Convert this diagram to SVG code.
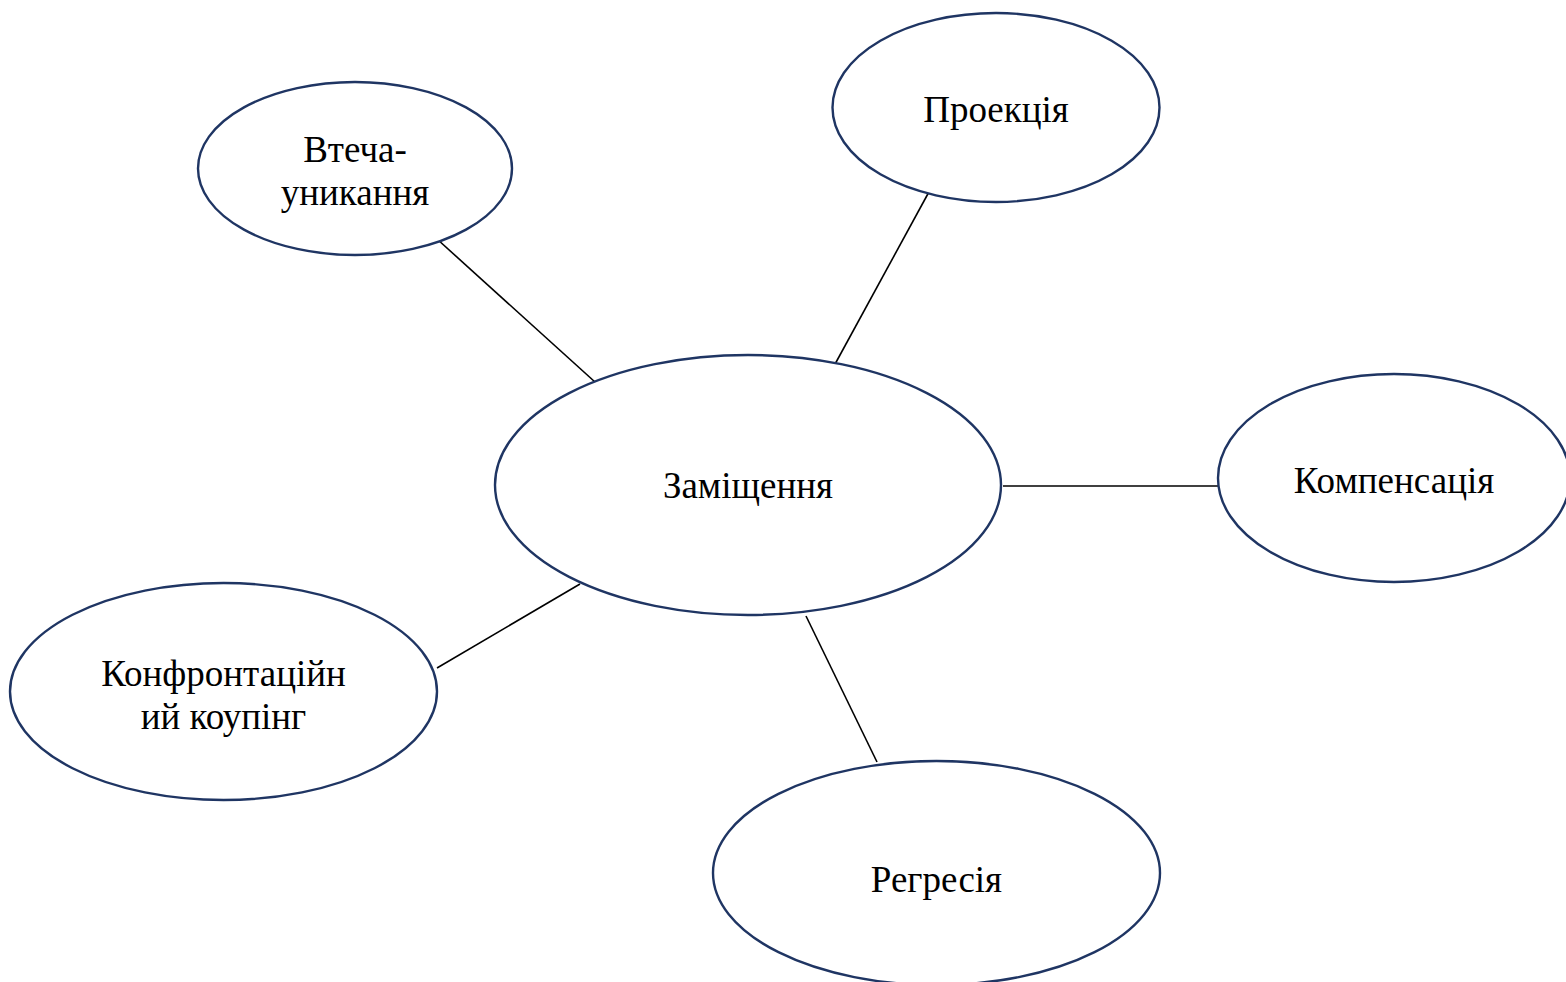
<svg xmlns="http://www.w3.org/2000/svg" width="1566" height="982" viewBox="0 0 1566 982">
  <style>
    .node ellipse { fill: #ffffff; stroke: #1f3563; stroke-width: 2.4; }
    .node text { font-family: "Liberation Serif", "Times New Roman", serif; font-size: 37px; fill: #000000; text-anchor: middle; }
    #connectors line { stroke: #000000; stroke-width: 1.6; }
  </style>
  <rect width="1566" height="982" fill="#ffffff"/>

  <!-- links from the central node to the satellites -->
  <g id="connectors">
    <line x1="437" y1="239" x2="595" y2="382"/>
    <line x1="930" y1="190" x2="834" y2="366"/>
    <line x1="1003" y1="486" x2="1219" y2="486"/>
    <line x1="580" y1="584" x2="437" y2="668"/>
    <line x1="806" y1="616" x2="877" y2="762"/>
  </g>

  <g id="node-vtecha" class="node">
    <ellipse cx="355" cy="168.5" rx="157" ry="86.5"/>
    <text x="355" y="162">Втеча-</text>
    <text x="355" y="205">уникання</text>
  </g>

  <g id="node-proektsiia" class="node">
    <ellipse cx="996" cy="107.5" rx="163.5" ry="94.5"/>
    <text x="996" y="122">Проекція</text>
  </g>

  <g id="node-zamishchennia" class="node">
    <ellipse cx="748" cy="485" rx="253" ry="130"/>
    <text x="748" y="498">Заміщення</text>
  </g>

  <g id="node-kompensatsiia" class="node">
    <ellipse cx="1394" cy="478" rx="176" ry="104"/>
    <text x="1394" y="493">Компенсація</text>
  </g>

  <g id="node-konfrontatsiinyi" class="node">
    <ellipse cx="223.5" cy="691.5" rx="213.5" ry="108.5"/>
    <text x="223.5" y="686">Конфронтаційн</text>
    <text x="223.5" y="729">ий коупінг</text>
  </g>

  <g id="node-rehresiia" class="node">
    <ellipse cx="936.5" cy="873" rx="223.5" ry="112"/>
    <text x="936.5" y="892">Регресія</text>
  </g>
</svg>
